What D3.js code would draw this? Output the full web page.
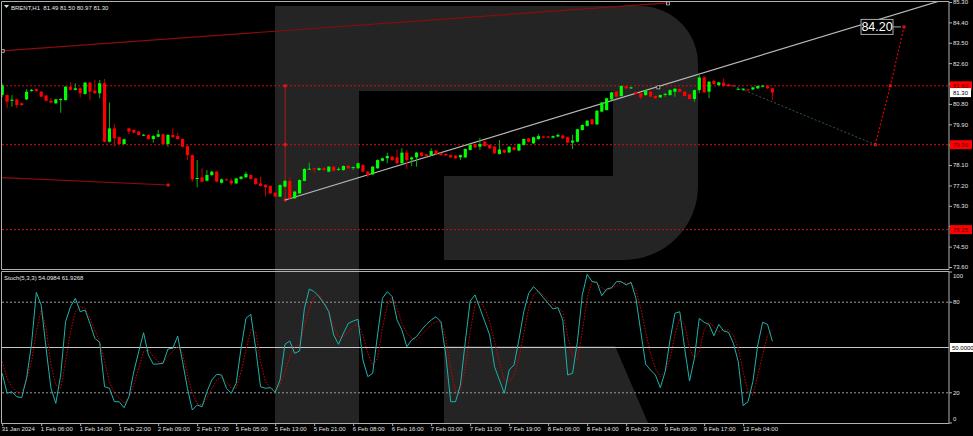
<!DOCTYPE html>
<html><head><meta charset="utf-8">
<script src="https://cdn.jsdelivr.net/npm/d3@7"></script>
<style>html,body{margin:0;padding:0;background:#000;overflow:hidden}svg{display:block}text{font-family:"Liberation Sans",Arial,sans-serif}</style>
</head><body><svg id="c" width="973" height="436"></svg>
<script>
// ---------- DATA ----------
const open=[81.20,81.19,80.94,81.00,80.83,81.00,81.37,81.45,81.34,81.17,80.94,80.83,80.97,80.97,81.56,81.42,81.49,81.24,81.74,81.39,81.27,81.71,79.13,79.72,79.33,79.03,79.72,79.65,79.58,79.41,79.43,79.25,79.35,79.46,79.03,79.43,79.38,79.25,78.94,78.54,77.50,77.56,77.41,77.66,77.81,77.32,77.47,77.41,77.29,77.49,77.56,77.66,77.51,77.29,77.23,77.18,76.88,76.71,77.15,77.40,76.63,76.85,77.40,77.91,77.96,77.88,77.96,77.81,78.03,77.91,77.88,78.07,77.99,77.96,78.10,77.81,77.69,77.96,78.29,78.40,78.47,78.44,78.18,78.65,78.35,78.44,78.65,78.57,78.54,78.74,78.62,78.59,78.54,78.52,78.44,78.44,78.77,79.03,78.91,79.13,78.99,78.91,78.59,78.77,78.66,78.88,78.74,78.99,79.28,79.06,79.25,79.36,79.36,79.31,79.36,79.41,79.33,79.09,79.13,79.65,79.83,80.12,79.90,80.46,80.53,81.00,81.34,81.15,81.59,81.49,81.33,81.27,81.19,81.34,81.15,81.09,81.21,81.19,81.34,81.46,81.34,81.22,81.02,81.41,81.97,81.34,81.81,81.63,81.74,81.66,81.62,81.45,81.41,81.44,81.44,81.49,81.56,81.61,81.49];
const high=[81.70,81.22,81.19,81.03,80.86,81.45,81.46,81.48,81.37,81.20,81.05,81.03,81.05,81.59,81.75,81.71,81.53,81.77,81.77,81.86,81.86,81.90,80.86,79.91,79.36,79.27,79.75,79.68,79.61,79.47,79.46,79.43,79.65,79.49,79.46,79.72,79.53,79.28,78.97,78.57,78.32,77.96,77.88,77.84,77.84,77.50,77.51,77.51,77.54,77.62,77.81,77.69,77.54,77.59,77.26,77.21,76.91,77.25,77.45,77.56,76.96,77.47,77.96,78.21,77.98,77.99,77.99,78.06,78.06,78.00,78.09,78.10,78.04,78.21,78.13,77.84,78.06,78.35,78.43,78.65,78.50,78.77,78.84,78.77,78.47,78.68,78.68,78.60,78.84,78.77,78.65,78.62,78.57,78.55,78.57,78.84,79.02,79.06,79.30,79.16,79.02,78.94,79.21,78.80,78.94,78.91,79.06,79.28,79.31,79.36,79.47,79.39,79.39,79.41,79.50,79.44,79.36,79.43,79.71,79.90,80.09,80.15,80.53,80.89,81.08,81.34,81.37,81.62,81.62,81.56,81.36,81.30,81.42,81.37,81.18,81.22,81.30,81.44,81.50,81.49,81.37,81.25,81.44,82.08,82.05,81.81,81.86,81.78,81.93,81.69,81.64,81.50,81.50,81.47,81.56,81.62,81.64,81.64,81.50];
const low=[81.10,80.61,80.68,80.61,80.72,80.97,81.34,81.31,81.09,80.91,80.83,80.80,80.41,80.94,81.39,81.39,81.09,81.21,80.97,81.24,81.05,79.10,79.10,78.91,79.00,79.00,79.47,79.50,79.40,79.38,79.22,79.09,79.32,79.00,78.91,79.30,79.22,78.88,78.32,77.37,77.12,77.34,77.38,77.63,77.34,77.29,77.41,77.22,77.26,77.46,77.53,77.46,77.23,77.15,76.71,76.82,76.68,76.68,77.10,76.55,76.60,76.82,77.38,77.88,77.74,77.85,77.85,77.78,77.82,77.85,77.85,77.93,77.88,77.93,77.78,77.56,77.66,77.93,78.26,78.18,78.29,78.15,78.15,77.93,78.06,78.03,78.47,78.47,78.51,78.56,78.51,78.50,78.41,78.37,78.32,78.41,78.74,78.85,78.77,78.91,78.81,78.59,78.56,78.62,78.63,78.74,78.71,78.96,79.10,79.03,79.22,79.28,79.28,79.28,79.33,79.25,79.06,78.81,79.10,79.62,79.80,79.88,79.87,80.43,80.50,80.97,81.09,81.12,81.46,81.46,81.21,81.02,81.16,81.09,81.02,81.06,81.12,81.16,81.12,81.31,81.12,80.99,80.90,81.27,81.28,81.05,81.65,81.60,81.56,81.56,81.56,81.42,81.38,81.38,81.41,81.46,81.53,81.46,80.97];
const close=[81.62,80.90,80.99,80.75,80.75,81.34,81.42,81.37,81.12,80.94,80.86,81.00,81.02,81.56,81.42,81.49,81.27,81.74,81.34,81.27,81.71,79.13,79.72,79.28,79.03,79.24,79.58,79.53,79.43,79.44,79.25,79.38,79.46,79.03,79.43,79.33,79.25,78.91,78.54,77.47,77.53,77.37,77.66,77.81,77.37,77.47,77.44,77.29,77.51,77.59,77.71,77.49,77.26,77.18,77.12,76.85,76.71,77.22,77.40,76.65,76.93,77.44,77.93,77.94,77.91,77.96,77.88,78.03,77.85,77.93,78.06,77.96,78.01,78.18,77.81,77.66,78.03,78.32,78.40,78.50,78.32,78.18,78.65,78.32,78.44,78.65,78.50,78.50,78.72,78.59,78.54,78.53,78.44,78.40,78.54,78.81,78.99,78.88,79.03,78.94,78.84,78.62,78.79,78.65,78.91,78.77,79.03,79.25,79.13,79.33,79.38,79.31,79.31,79.38,79.43,79.28,79.09,79.18,79.68,79.87,80.06,79.91,80.50,80.86,81.05,81.31,81.12,81.59,81.49,81.53,81.24,81.09,81.39,81.12,81.05,81.19,81.24,81.41,81.47,81.34,81.15,81.02,81.41,81.97,81.31,81.78,81.68,81.75,81.59,81.59,81.59,81.47,81.47,81.41,81.53,81.59,81.61,81.49,81.30];
const stochK=[32.9,19.7,20.7,17.4,16.8,29.6,51.7,86.5,78.1,49.5,23,13,31.8,67.1,77,82.6,73.7,74.8,66,56.1,53.4,24,23,14.1,14.1,10.1,17.4,34,47.2,59.8,45,38.9,39.1,39.5,49,49.5,57.6,40.6,23,8.6,11.9,10.8,20.7,28.5,32.2,31.8,23,19.7,26.3,49.5,69.3,72,49.5,24,23,23.4,20.3,28.5,52.1,54.3,46.1,47.7,76,88.7,87,83.6,79.3,73.7,58.3,52.1,59.4,66,67.5,68.7,41.7,30.7,32.9,58.3,82.6,87,83.7,68.2,61.6,50.5,55,57.2,61.6,65.3,68.2,70.4,67.1,45,14.1,14.1,25.2,53.8,80.8,84.8,76,67.1,58.3,37.3,28.5,19.7,35.1,38.4,55,73.7,85.9,90.3,87,83,79.3,75.5,76.4,68.2,31.8,32.9,53.8,84.8,98.5,93.6,93.2,84.3,88.7,89.6,93.6,93.6,91.4,93.2,82.6,60.5,38.9,35.1,31.8,23.4,34,55,72.6,73.7,49.5,27.8,42.8,69.3,66.7,65.3,57.8,65.3,60.9,60,52.8,40.6,11.5,14.1,27.4,51.7,66.7,65.3,54.1];
const stochD=[40.6,29.6,24,20.7,19.7,28.5,40.6,60.4,74.8,62.7,38.4,25.2,23,40.6,60.4,73.7,77,76,69.3,61.6,53.8,40.6,27.4,19.7,16.4,13,17.4,25.2,36.2,47.2,48.3,43.9,40.6,40.2,43.9,47.7,50.5,46.1,31.8,19.7,13,11.9,16.4,23,28.5,30.7,27.4,23,23,34,48.3,61.6,60.4,40.6,27.4,23.4,21.9,25.2,34,43.9,50.5,51.7,64.9,76,83.6,84.8,80.4,73.7,63.8,57.2,57.2,60.4,63.8,66,58.3,46.1,38.4,42.8,62.7,78.1,83.6,76,66,59.4,56.1,55,58.3,61.6,64.9,67.1,67.1,56.1,36.2,20.7,21.9,36.2,60.4,78.1,80.4,76,67.1,53.8,40.6,28.5,27.4,31.8,42.8,59.4,76,84.8,87.4,84.8,81.5,78.1,76.4,73.7,57.2,45,41.7,60.4,82.6,94,92.5,89.6,87.4,89.2,90.9,93.2,92.5,92.5,88.1,76,60.4,46.1,36.2,30.7,34,42.8,58.3,69.3,64.9,49.5,42.8,47.2,61.6,66.7,63.8,60.4,61.6,61.6,58.3,49.5,34,20.7,18.5,31.8,45,58.3,61.9];
const xLabels=["31 Jan 2024","1 Feb 06:00","1 Feb 14:00","1 Feb 22:00","2 Feb 09:00","2 Feb 17:00","5 Feb 05:00","5 Feb 13:00","5 Feb 21:00","6 Feb 08:00","6 Feb 16:00","7 Feb 03:00","7 Feb 11:00","7 Feb 19:00","8 Feb 06:00","8 Feb 14:00","8 Feb 22:00","9 Feb 09:00","9 Feb 17:00","12 Feb 04:00"];
const xTickBars=[0,8,16,24,32,40,48,56,64,72,80,88,96,104,112,120,128,136,144,152];
const priceTicks=[85.30,84.40,83.50,82.60,81.70,80.80,79.90,79.00,78.10,77.20,76.30,75.40,74.50,73.60];
const hLevels=[81.60,79.00,75.25];
const currentPrice=81.30;
const stochTicks=[100,80,50,20,0];
// drawn objects (bar index, price)
const channelTop=[[0,83.14],[136.6,85.26]];
const channelLow=[[0,77.55],[34.05,77.22]];
const trendLine=[[58.05,76.56],[134.6,81.53],[193,85.39]];
const vertLine=[[58.05,81.60],[58.05,79.00],[58.05,76.56]];
const forecastDown=[[150,81.60],[179.1,79.00]];
const forecastUp=[[179.1,79.00],[182.2,81.60],[185,84.20]];
const targetLabel="84.20";
const titleText="BRENT,H1  81.49 81.50 80.97 81.30";
const stochTitle="Stoch(5,3,3) 54.0984 61.9268";

// ---------- LAYOUT ----------
const W=973,H=436, L=2, R=949, mTop=2, mBot=267, sTop=272, sBot=423;
const svg=d3.select("#c");
svg.append("rect").attr("width",W).attr("height",H).attr("fill","#000");

const x=d3.scaleLinear().domain([0,158]).range([2.2,772.4]);
const y=d3.scaleLinear().domain([73.6,85.3]).range([mBot,mTop]);
const ys=d3.scaleLinear().domain([0,100]).range([sBot,sTop]);

// watermark
const wm=svg.append("g").attr("fill","#242424");
wm.append("path").attr("d","M275,6H359V423H275Z");
wm.append("path").attr("d","M359,6H640A58,58 0 0 1 698,64V186A74,74 0 0 1 624,260H444V176H613V91H359Z");
wm.append("path").attr("d","M444,346H615L648,423H444Z");

const defs=svg.append("defs");
defs.append("clipPath").attr("id","cm").append("rect").attr("x",L).attr("y",mTop).attr("width",R-L).attr("height",mBot-mTop+2);
defs.append("clipPath").attr("id","cs").append("rect").attr("x",L).attr("y",sTop-1).attr("width",R-L).attr("height",sBot-sTop+1);

const gm=svg.append("g").attr("clip-path","url(#cm)");
const gs=svg.append("g").attr("clip-path","url(#cs)");
const line=d3.line().x(d=>x(d[0])).y(d=>y(d[1]));

// horizontal levels
gm.selectAll(".hl").data(hLevels).join("line")
  .attr("x1",L).attr("x2",R).attr("y1",d=>y(d)).attr("y2",d=>y(d))
  .attr("stroke","#d01010").attr("stroke-dasharray","2,2").attr("stroke-width",1);

// dark red channel lines
gm.append("path").attr("d",line(channelTop)).attr("stroke","#8a0c0c").attr("stroke-width",1.2).attr("fill","none");
gm.append("path").attr("d",line(channelLow)).attr("stroke","#8a0c0c").attr("stroke-width",1.2).attr("fill","none");
gm.append("rect").attr("x",x(channelTop[0][0])-1).attr("y",y(channelTop[0][1])-1.5).attr("width",3).attr("height",3).attr("fill","none").attr("stroke","#bbb").attr("stroke-width",0.8);
gm.append("rect").attr("x",x(channelTop[1][0])-1.5).attr("y",y(channelTop[1][1])-1).attr("width",3).attr("height",3).attr("fill","none").attr("stroke","#bbb").attr("stroke-width",0.8);
gm.append("rect").attr("x",x(channelLow[1][0])-1.5).attr("y",y(channelLow[1][1])-1.5).attr("width",3).attr("height",3).attr("fill","#e01010");

// vertical red line
gm.append("path").attr("d",line([vertLine[0],vertLine[2]])).attr("stroke","#a01818").attr("stroke-width",1.2);
gm.selectAll(".vm").data(vertLine).join("rect").attr("x",d=>x(d[0])-1.5).attr("y",d=>y(d[1])-1.5).attr("width",3).attr("height",3).attr("fill","#e01818");

// trend line (white)
gm.append("path").attr("d",line([trendLine[0],trendLine[2]])).attr("stroke","#b8b8b8").attr("stroke-width",1.2).attr("fill","none");
gm.append("rect").attr("x",x(trendLine[1][0])-1.5).attr("y",y(trendLine[1][1])-1.5).attr("width",3).attr("height",3).attr("fill","#000").attr("stroke","#ccc").attr("stroke-width",0.7);

// candles
const idx=d3.range(open.length);
gm.selectAll(".wk").data(idx).join("line")
  .attr("x1",i=>x(i)).attr("x2",i=>x(i)).attr("y1",i=>y(high[i])).attr("y2",i=>y(low[i]))
  .attr("stroke",i=>close[i]>=open[i]?"#10b010":"#c80000").attr("stroke-width",1);
gm.selectAll(".bd").data(idx).join("rect")
  .attr("x",i=>x(i)-1.6).attr("width",3.2)
  .attr("y",i=>y(Math.max(open[i],close[i])))
  .attr("height",i=>Math.max(1,Math.abs(y(open[i])-y(close[i]))))
  .attr("fill",i=>close[i]>=open[i]?"#00ff00":"#ff0000");

// forecast
gm.append("path").attr("d",line(forecastDown)).attr("stroke","#2f5656").attr("stroke-dasharray","2,2").attr("fill","none");
gm.append("path").attr("d",line(forecastUp)).attr("stroke","#e00000").attr("stroke-dasharray","2,2").attr("stroke-width",1.2).attr("fill","none");
gm.selectAll(".fm").data(forecastUp).join("rect").attr("x",d=>x(d[0])-1.5).attr("y",d=>y(d[1])-1.5).attr("width",3).attr("height",3).attr("fill","#e01010");

// target label
const tx=x(forecastUp[2][0]), ty=y(forecastUp[2][1]);
svg.append("line").attr("x1",tx-11).attr("x2",tx-3).attr("y1",ty).attr("y2",ty).attr("stroke","#aaa");
svg.append("rect").attr("x",tx-43).attr("y",ty-7.5).attr("width",32).attr("height",15).attr("fill","#000").attr("stroke","#aaa").attr("stroke-width",1);
svg.append("text").attr("x",tx-27).attr("y",ty+4.5).attr("text-anchor","middle").attr("fill","#fff").attr("font-size",12.5).text(targetLabel);

// stochastic
gs.selectAll(".sl").data([80,20]).join("line").attr("x1",L).attr("x2",R).attr("y1",d=>ys(d)).attr("y2",d=>ys(d))
  .attr("stroke","#9a9a9a").attr("stroke-dasharray","2,2");
gs.append("line").attr("x1",L).attr("x2",R).attr("y1",ys(50)).attr("y2",ys(50)).attr("stroke","#c8c8c8");
const sline=d3.line().x((d,i)=>x(i)).y(d=>ys(d));
gs.append("path").attr("d",sline(stochD)).attr("stroke","#d00000").attr("stroke-dasharray","1.5,1.5").attr("fill","none");
gs.append("path").attr("d",sline(stochK)).attr("stroke","#20b2aa").attr("stroke-width",1).attr("fill","none");

// frames
const fr=svg.append("g").attr("stroke","#b0b0b0").attr("fill","none").attr("stroke-width",1);
fr.append("path").attr("d",`M${L-0.5},1.5H${R}V269.5H${L-0.5}Z`);
fr.append("path").attr("d",`M${L-0.5},271.5H${R}V${sBot}.5H${L-0.5}Z`);

// titles
svg.append("path").attr("d","M4,5H9L6.5,8Z").attr("fill","#ddd");
svg.append("text").attr("x",11).attr("y",9.5).attr("fill","#e8e8e8").attr("font-size",6).attr("xml:space","preserve").text(titleText);
svg.append("text").attr("x",4).attr("y",279.5).attr("fill","#e8e8e8").attr("font-size",6).text(stochTitle);

// price axis (labels hidden behind level tags are not drawn)
const pa=svg.append("g").attr("transform",`translate(${R},0)`)
  .call(d3.axisRight(y).tickValues(priceTicks).tickFormat(d3.format(".2f")).tickSize(3));
pa.select(".domain").remove();
pa.selectAll("line").attr("stroke","#b0b0b0");
pa.selectAll("text").attr("fill","#e0e0e0").attr("font-size",6).attr("x",4).attr("font-family","Liberation Sans, Arial, sans-serif");
pa.selectAll(".tick").filter(d=>hLevels.some(v=>Math.abs(y(v)-y(d))<6.5)).select("text").remove();

// level tags
const tag=svg.append("g");
hLevels.forEach(v=>{
  tag.append("rect").attr("x",R+1).attr("y",y(v)-4.5).attr("width",22).attr("height",9).attr("fill","#ff0000");
  tag.append("text").attr("x",R+4).attr("y",y(v)+2.2).attr("fill","#5a0000").attr("font-size",6).text(d3.format(".2f")(v));
});
tag.append("rect").attr("x",R+1).attr("y",y(currentPrice)-4.5).attr("width",21).attr("height",9).attr("fill","#fff");
tag.append("text").attr("x",R+4).attr("y",y(currentPrice)+2.2).attr("fill","#000").attr("font-size",6).text(d3.format(".2f")(currentPrice));

// stoch axis
const sa=svg.append("g").attr("transform",`translate(${R},0)`);
stochTicks.forEach(v=>{
  let yy=ys(v); if(v===100) yy+=4; if(v===0) yy-=4;
  if(v===50){
    sa.append("rect").attr("x",1).attr("y",yy-4.5).attr("width",24).attr("height",9).attr("fill","#fff");
    sa.append("text").attr("x",3).attr("y",yy+2.2).attr("fill","#000").attr("font-size",6).text("50.0000");
  } else {
    sa.append("line").attr("x1",0).attr("x2",3).attr("y1",ys(v)).attr("y2",ys(v)).attr("stroke","#b0b0b0");
    sa.append("text").attr("x",4).attr("y",yy+2.2).attr("fill","#e0e0e0").attr("font-size",6).text(v);
  }
});

// x axis
const xa=svg.append("g").attr("transform",`translate(0,${sBot})`)
  .call(d3.axisBottom(x).tickValues(xTickBars).tickFormat((d,i)=>xLabels[i]).tickSize(3));
xa.select(".domain").remove();
xa.selectAll("line").attr("stroke","#b0b0b0");
xa.selectAll("text").attr("fill","#e0e0e0").attr("font-size",6).attr("text-anchor","start").attr("x",-1).attr("y",4).attr("font-family","Liberation Sans, Arial, sans-serif");
</script></body></html>
